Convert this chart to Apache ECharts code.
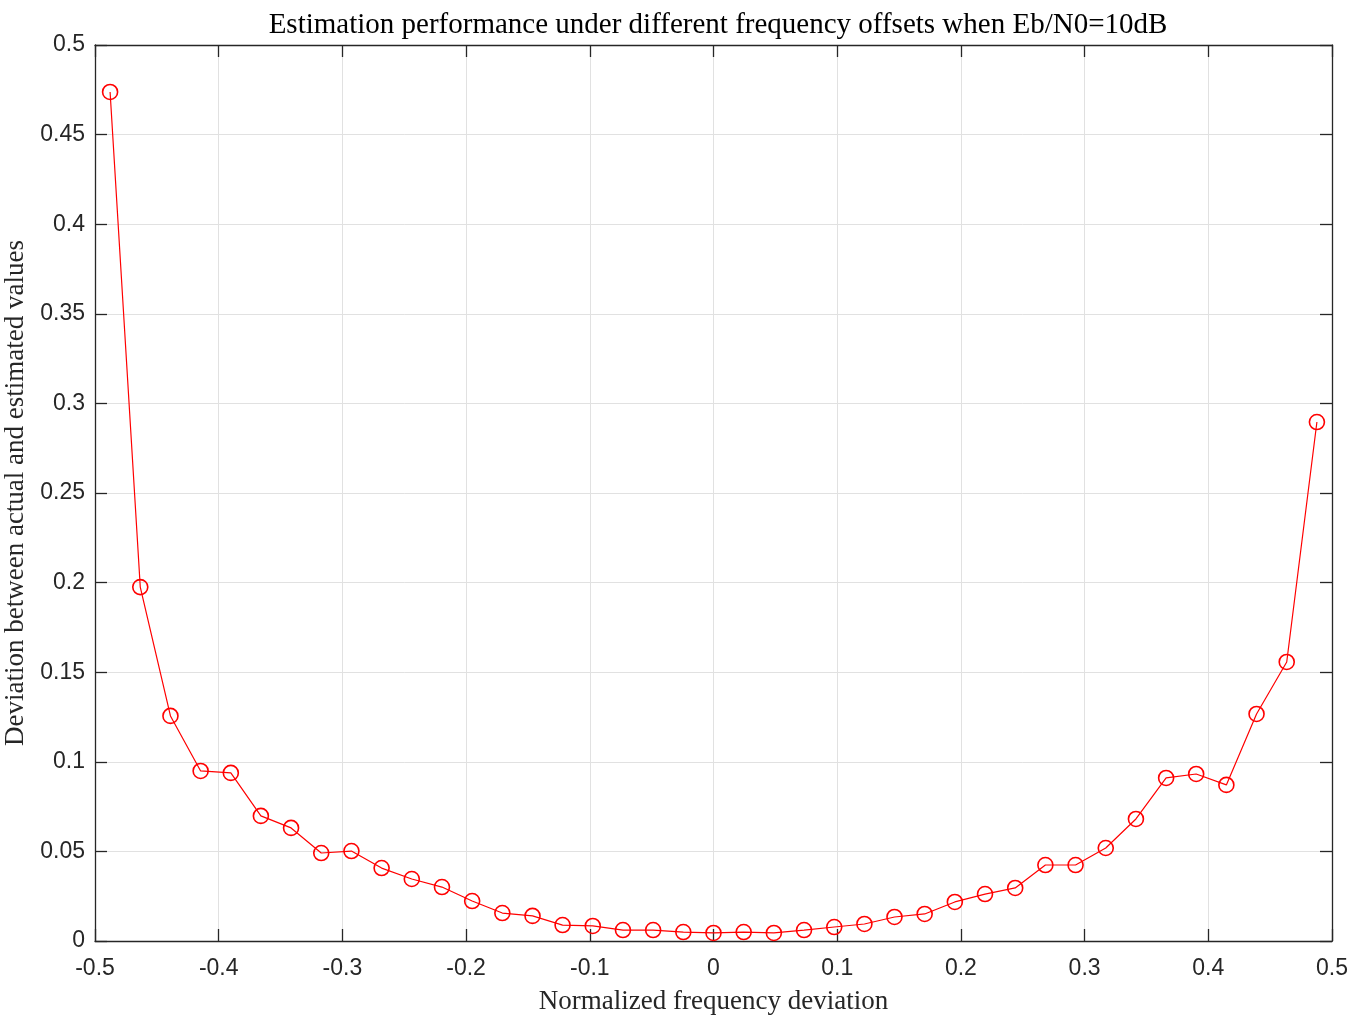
<!DOCTYPE html>
<html>
<head>
<meta charset="utf-8">
<script src="https://cdn.jsdelivr.net/npm/echarts@6/dist/echarts.min.js"></script>
<style>
  html, body { margin: 0; padding: 0; background: #fff; }
  #chart { width: 1364px; height: 1015px; }
</style>
</head>
<body>
<div id="chart"></div>
<script>
  // normalized frequency offsets (k/41)
  const freqOffsets = [
    -0.4878, -0.4634, -0.4390, -0.4146, -0.3902, -0.3659, -0.3415, -0.3171, -0.2927, -0.2683,
    -0.2439, -0.2195, -0.1951, -0.1707, -0.1463, -0.1220, -0.0976, -0.0732, -0.0488, -0.0244,
    0,
    0.0244, 0.0488, 0.0732, 0.0976, 0.1220, 0.1463, 0.1707, 0.1951, 0.2195, 0.2439,
    0.2683, 0.2927, 0.3171, 0.3415, 0.3659, 0.3902, 0.4146, 0.4390, 0.4634, 0.4878
  ]
  // deviation between actual and estimated values
  const deviations = [
    0.4738, 0.1975, 0.1256, 0.0949, 0.0938, 0.0698, 0.0631, 0.0491, 0.0502, 0.0407,
    0.0346, 0.0301, 0.0223, 0.0156, 0.0140, 0.0089, 0.0084, 0.0061, 0.0061, 0.0050,
    0.0045,
    0.0050, 0.0045, 0.0061, 0.0078, 0.0095, 0.0134, 0.0151, 0.0218, 0.0262, 0.0296,
    0.0424, 0.0424, 0.0519, 0.0681, 0.0910, 0.0932, 0.0871, 0.1267, 0.1557, 0.2896
  ]

  const axisColor = '#262626'
  const gridColor = '#e1e1e1'
  const serif = '"Liberation Serif", "DejaVu Serif", serif'
  const sans = '"Liberation Sans", Arial, sans-serif'

  const points = freqOffsets.map((x, i) => [x, deviations[i]])

  // shared look for the box axes (MATLAB style, ticks inside)
  const boxAxis = (extra) => Object.assign({
    type: 'value',
    axisLine: { show: true, onZero: false, lineStyle: { color: axisColor, width: 1.3 } },
    axisTick: { show: true, inside: true, length: 12, lineStyle: { color: axisColor, width: 1.3 } },
    axisLabel: { show: false },
    splitLine: { show: false }
  }, extra)

  const myChart = echarts.init(document.getElementById('chart'))
  myChart.setOption({
    animation: false,
    backgroundColor: '#fff',
    title: {
      text: 'Estimation performance under different frequency offsets when Eb/N0=10dB',
      left: 713,
      textAlign: 'center',
      top: 6,
      textStyle: { fontFamily: serif, fontSize: 29, fontWeight: 'normal', color: '#000' }
    },
    grid: { left: 95, right: 32, top: 45, bottom: 74, outerBoundsMode: 'none' },
    xAxis: [
      boxAxis({
        position: 'bottom',
        min: -0.5, max: 0.5, interval: 0.1,
        axisLabel: { show: true, color: axisColor, fontFamily: sans, fontSize: 23, margin: 16 },
        splitLine: { show: true, lineStyle: { color: gridColor, width: 1 } },
        name: 'Normalized frequency deviation',
        nameLocation: 'middle',
        nameGap: 47,
        nameTextStyle: { fontFamily: serif, fontSize: 27, color: '#262626' }
      }),
      boxAxis({ position: 'top', min: -0.5, max: 0.5, interval: 0.1 })
    ],
    yAxis: [
      boxAxis({
        position: 'left',
        min: 0, max: 0.5, interval: 0.05,
        axisLabel: { show: true, color: axisColor, fontFamily: sans, fontSize: 23, margin: 10 },
        splitLine: { show: true, lineStyle: { color: gridColor, width: 1 } },
        name: 'Deviation between actual and estimated values',
        nameLocation: 'middle',
        nameRotate: 90,
        nameGap: 63,
        nameTextStyle: { fontFamily: serif, fontSize: 27, color: '#262626' }
      }),
      boxAxis({ position: 'right', min: 0, max: 0.5, interval: 0.05 })
    ],
    series: [
      {
        type: 'line',
        data: points,
        symbol: 'circle',
        symbolSize: 15,
        showAllSymbol: true,
        lineStyle: { color: '#ff0000', width: 1.2 },
        itemStyle: { color: 'transparent', borderColor: '#ff0000', borderWidth: 1.6 }
      }
    ]
  })
</script>
</body>
</html>
